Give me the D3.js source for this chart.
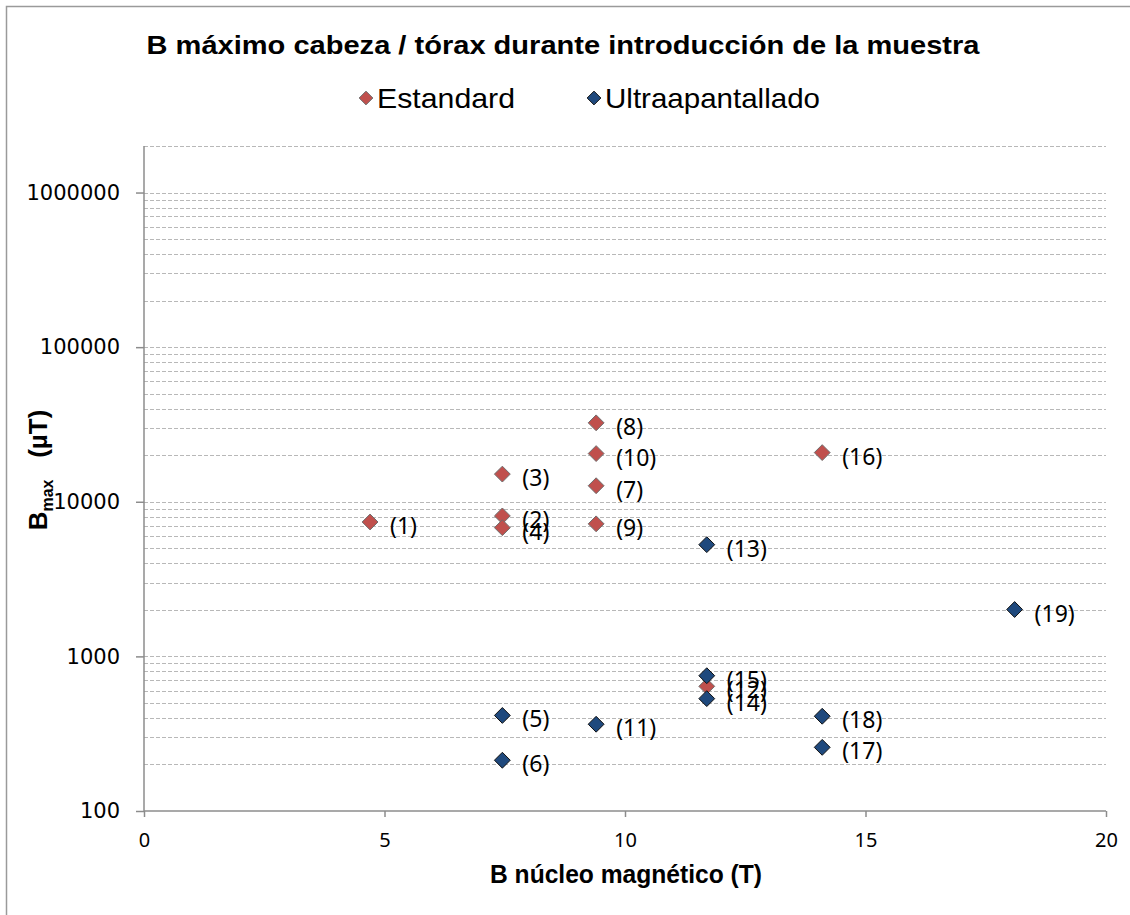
<!DOCTYPE html>
<html>
<head>
<meta charset="utf-8">
<script src="https://cdn.jsdelivr.net/npm/d3@7"></script>
<style>
  body { margin: 0; background: #fff; }
  svg { display: block; }
</style>
</head>
<body>
<div id="container"></div>
<script>
const w = 1130;
const h = 915;

// Estandard series
const stdLabels = ["(1)", "(2)", "(3)", "(4)", "(7)", "(8)", "(9)", "(10)", "(12)", "(16)"];
const stdX = [4.7, 7.45, 7.45, 7.45, 9.4, 9.4, 9.4, 9.4, 11.7, 14.1];
const stdY = [7400, 8100, 15100, 6800, 12700, 32400, 7200, 20500, 640, 20800];

// Ultraapantallado series
const ultraLabels = ["(5)", "(6)", "(11)", "(13)", "(14)", "(15)", "(17)", "(18)", "(19)"];
const ultraX = [7.45, 7.45, 9.4, 11.7, 11.7, 11.7, 14.1, 14.1, 18.1];
const ultraY = [415, 213, 364, 5280, 533, 750, 258, 410, 2010];

const xTicks = [0, 5, 10, 15, 20];
const yTicks = [100, 1000, 10000, 100000, 1000000];

const plotLeft = 144, plotRight = 1106, plotTop = 146, plotBottom = 811;

const svg = d3.select("#container")
  .append("svg")
  .attr("width", w)
  .attr("height", h);

// outer chart border
svg.append("rect")
  .attr("x", 6.5)
  .attr("y", 6.5)
  .attr("width", w + 20)
  .attr("height", h + 20)
  .attr("fill", "none")
  .attr("stroke", "#9a9a9a")
  .attr("stroke-width", 1.5);

const xScale = d3.scaleLinear()
  .domain([0, 20])
  .range([plotLeft, plotRight]);

const yScale = d3.scaleLog()
  .domain([100, 2000000])
  .range([plotBottom, plotTop]);

// gridlines at every 1..9 x 10^k
const gridVals = [];
for (let k = 2; k <= 6; k++) {
  for (let m = 1; m <= 9; m++) {
    const v = m * Math.pow(10, k);
    if (v > 100 && v <= 2000000) gridVals.push(v);
  }
}
gridVals.push(2000000);

svg.append("g")
  .selectAll("line")
  .data(gridVals)
  .enter()
  .append("line")
  .attr("x1", plotLeft)
  .attr("x2", plotRight)
  .attr("y1", (d) => Math.round(yScale(d)) + 0.5)
  .attr("y2", (d) => Math.round(yScale(d)) + 0.5)
  .attr("stroke", "#b8b8b8")
  .attr("stroke-width", 1)
  .attr("stroke-dasharray", "4,2");

// y axis
const yAxis = d3.axisLeft(yScale)
  .tickValues(yTicks)
  .tickFormat(d3.format("d"))
  .tickSize(8)
  .tickPadding(16);

const gy = svg.append("g")
  .attr("transform", "translate(" + plotLeft + ",0)")
  .call(yAxis);
gy.select(".domain").attr("stroke", "#8c8c8c").attr("stroke-width", 1.5).attr("d", "M0," + plotTop + "V" + plotBottom);
gy.selectAll(".tick line").attr("stroke", "#8c8c8c").attr("stroke-width", 1.5);
gy.selectAll("text")
  .style("font-family", "'DejaVu Sans', Verdana, sans-serif")
  .style("font-size", "21px")
  .attr("fill", "#000");

// x axis
const xAxis = d3.axisBottom(xScale)
  .tickValues(xTicks)
  .tickSize(6)
  .tickPadding(16);

const gx = svg.append("g")
  .attr("transform", "translate(0," + plotBottom + ")")
  .call(xAxis);
gx.select(".domain").attr("stroke", "#8c8c8c").attr("stroke-width", 1.5).attr("d", "M" + plotLeft + ",0H" + plotRight);
gx.selectAll(".tick line").attr("stroke", "#8c8c8c").attr("stroke-width", 1.5);
gx.selectAll("text")
  .style("font-family", "'Noto Sans', sans-serif")
  .style("font-size", "20px")
  .attr("fill", "#000");

// diamonds
const diamond = d3.symbol().type(d3.symbolDiamond2).size(160);

const stdData = stdX.map((x, i) => ({x: x, y: stdY[i], label: stdLabels[i]}));
const ultraData = ultraX.map((x, i) => ({x: x, y: ultraY[i], label: ultraLabels[i]}));

svg.append("g")
  .selectAll("path")
  .data(stdData)
  .enter()
  .append("path")
  .attr("d", diamond)
  .attr("transform", (d) => "translate(" + xScale(d.x) + "," + yScale(d.y) + ")")
  .attr("fill", "#c0504d")
  .attr("stroke", "#6e6e6e")
  .attr("stroke-width", 1);

svg.append("g")
  .selectAll("path")
  .data(ultraData)
  .enter()
  .append("path")
  .attr("d", diamond)
  .attr("transform", (d) => "translate(" + xScale(d.x) + "," + yScale(d.y) + ")")
  .attr("fill", "#1f497d")
  .attr("stroke", "#111")
  .attr("stroke-width", 1);

// point labels
svg.append("g")
  .selectAll("text")
  .data(stdData.concat(ultraData))
  .enter()
  .append("text")
  .attr("x", (d) => xScale(d.x) + 20)
  .attr("y", (d) => yScale(d.y) + 12)
  .text((d) => d.label)
  .style("font-family", "'Noto Sans', sans-serif")
  .style("font-size", "23px")
  .attr("fill", "#000");

// title
svg.append("text")
  .attr("x", 563)
  .attr("y", 54)
  .attr("text-anchor", "middle")
  .attr("textLength", 833)
  .attr("lengthAdjust", "spacingAndGlyphs")
  .text("B máximo cabeza / tórax durante introducción de la muestra")
  .style("font-family", "'Liberation Sans', Arial, sans-serif")
  .style("font-weight", "bold")
  .style("font-size", "26px");

// legend
const legendItems = [
  {name: "Estandard", fill: "#c0504d", stroke: "#6e6e6e", x: 366, len: 138},
  {name: "Ultraapantallado", fill: "#1f497d", stroke: "#111", x: 594, len: 215}
];
const legend = svg.append("g");
legend.selectAll("path")
  .data(legendItems)
  .enter()
  .append("path")
  .attr("d", d3.symbol().type(d3.symbolDiamond2).size(120))
  .attr("transform", (d) => "translate(" + d.x + ",98)")
  .attr("fill", (d) => d.fill)
  .attr("stroke", (d) => d.stroke);
legend.selectAll("text")
  .data(legendItems)
  .enter()
  .append("text")
  .attr("x", (d) => d.x + 11)
  .attr("y", 108)
  .attr("textLength", (d) => d.len)
  .attr("lengthAdjust", "spacingAndGlyphs")
  .text((d) => d.name)
  .style("font-family", "'Liberation Sans', Arial, sans-serif")
  .style("font-size", "28px");

// axis titles
svg.append("text")
  .attr("x", 626)
  .attr("y", 883)
  .attr("text-anchor", "middle")
  .attr("textLength", 272)
  .attr("lengthAdjust", "spacingAndGlyphs")
  .text("B núcleo magnético (T)")
  .style("font-family", "'Liberation Sans', Arial, sans-serif")
  .style("font-weight", "bold")
  .style("font-size", "25px");

const yTitle = svg.append("text")
  .attr("transform", "translate(47,470) rotate(-90)")
  .attr("text-anchor", "middle")
  .style("font-family", "'Liberation Sans', Arial, sans-serif")
  .style("font-weight", "bold")
  .style("font-size", "26px");
yTitle.append("tspan").text("B");
yTitle.append("tspan").attr("dy", 6).style("font-size", "16px").text("max");
yTitle.append("tspan").attr("dy", -6).text("\u00a0\u00a0\u00a0(µT)");
</script>
</body>
</html>
